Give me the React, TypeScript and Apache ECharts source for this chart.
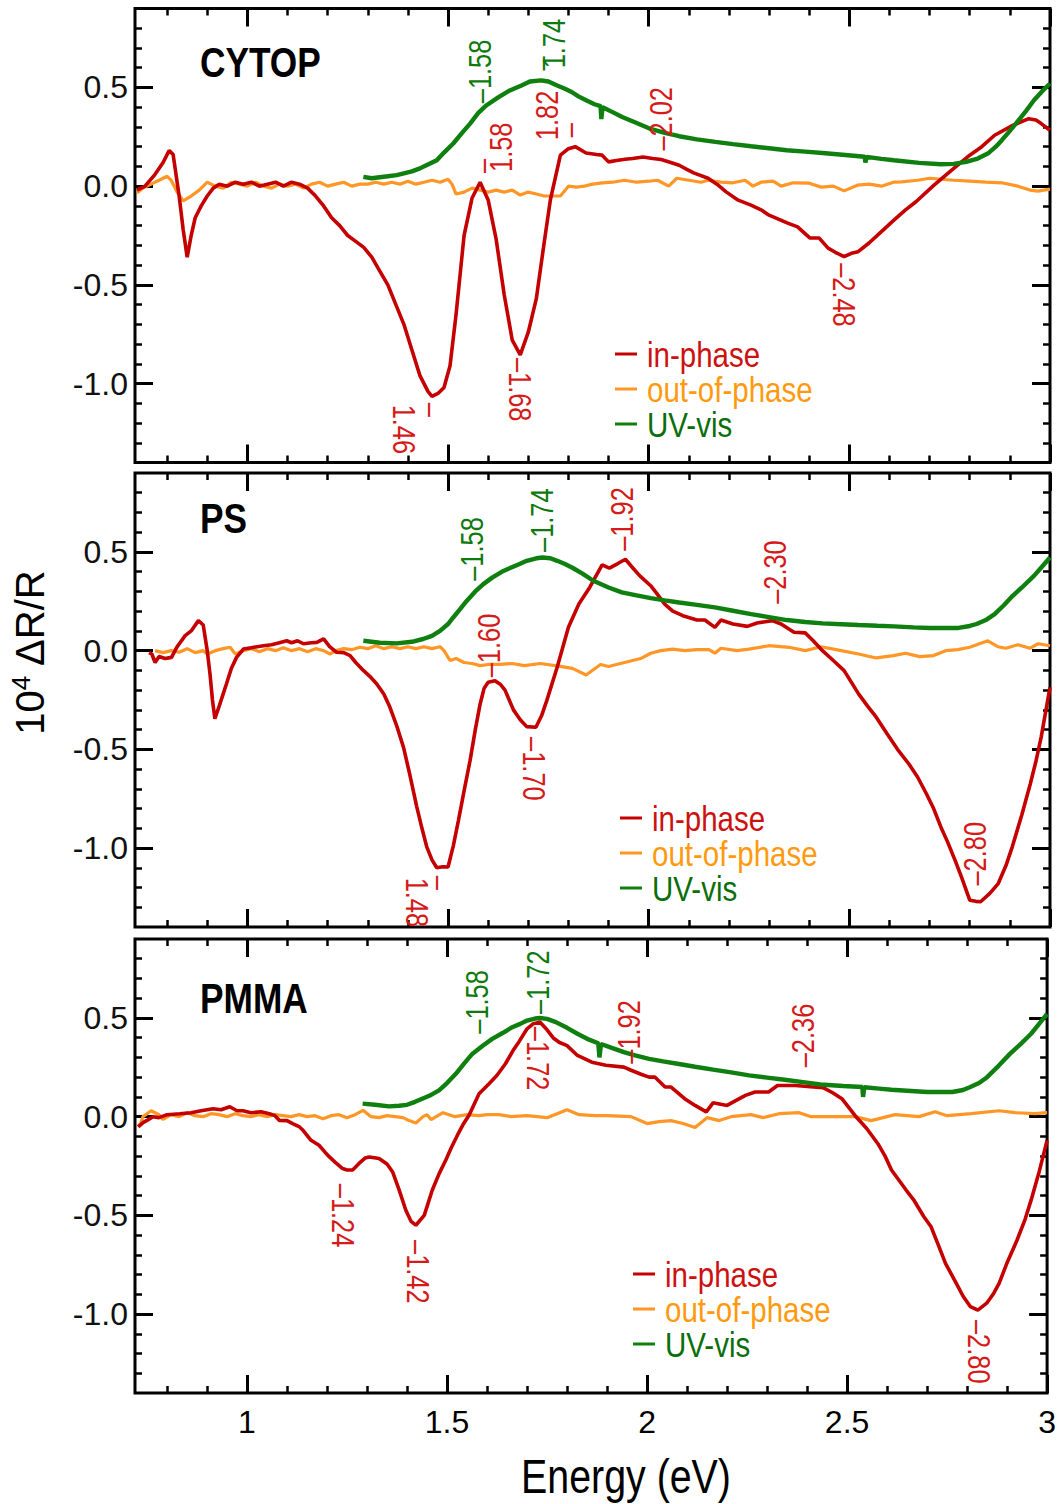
import React, { useEffect, useRef } from 'react';
import * as echarts from 'echarts';

// ---------- axis ranges & ticks ----------
const X_MIN = 0.72;
const X_MAX = 3.0;
const Y_MIN = -1.4;
const Y_MAX = 0.9;
const xMajor = [1, 1.5, 2, 2.5, 3];
const xMinor = [0.8, 0.9, 1.1, 1.2, 1.3, 1.4, 1.6, 1.7, 1.8, 1.9, 2.1, 2.2, 2.3, 2.4, 2.6, 2.7, 2.8, 2.9];
const yMajor = [-1, -0.5, 0, 0.5];
const yMinor = [-1.3, -1.2, -1.1, -0.9, -0.8, -0.7, -0.6, -0.4, -0.3, -0.2, -0.1, 0.1, 0.2, 0.3, 0.4, 0.6, 0.7, 0.8];

const panelNames = ['CYTOP', 'PS', 'PMMA'];
const seriesNames = ['in-phase', 'out-of-phase', 'UV-vis'];
const xTitle = 'Energy (eV)';

// ---------- CYTOP ----------
const cytopInPhase = [
  [0.725, -0.02], [0.745, 0.0], [0.77, 0.06], [0.79, 0.12], [0.805, 0.18], [0.815, 0.16], [0.83, -0.05], [0.84, -0.22],
  [0.85, -0.36], [0.86, -0.25], [0.87, -0.16], [0.885, -0.1], [0.9, -0.05], [0.915, -0.01], [0.93, 0.01], [0.95, 0.0],
  [0.97, 0.02], [0.99, 0.01], [1.01, 0.02], [1.03, 0.0], [1.05, 0.01], [1.07, 0.02], [1.09, 0.0], [1.11, 0.02],
  [1.13, 0.01], [1.15, -0.01], [1.17, -0.05], [1.19, -0.1], [1.21, -0.16], [1.23, -0.2], [1.25, -0.25], [1.27, -0.28],
  [1.29, -0.31], [1.31, -0.36], [1.33, -0.43], [1.35, -0.5], [1.37, -0.6], [1.39, -0.7], [1.41, -0.83], [1.43, -0.96],
  [1.45, -1.04], [1.46, -1.065], [1.475, -1.05], [1.49, -1.02], [1.505, -0.91], [1.52, -0.65], [1.54, -0.25], [1.56, -0.06],
  [1.58, 0.02], [1.6, -0.07], [1.62, -0.27], [1.64, -0.55], [1.66, -0.78], [1.68, -0.855], [1.7, -0.74], [1.72, -0.57],
  [1.74, -0.28], [1.755, -0.07], [1.78, 0.157], [1.8, 0.19], [1.817, 0.2], [1.844, 0.168], [1.87, 0.16], [1.884, 0.157],
  [1.9, 0.123], [1.92, 0.13], [1.941, 0.136], [1.96, 0.14], [1.986, 0.148], [2.01, 0.14], [2.031, 0.135], [2.055, 0.12],
  [2.076, 0.106], [2.095, 0.085], [2.112, 0.067], [2.148, 0.04], [2.17, 0.01], [2.193, -0.029], [2.223, -0.071], [2.255, -0.096],
  [2.28, -0.12], [2.3, -0.147], [2.345, -0.186], [2.371, -0.206], [2.402, -0.263], [2.425, -0.263], [2.447, -0.314], [2.465, -0.335],
  [2.487, -0.357], [2.505, -0.34], [2.522, -0.332], [2.549, -0.288], [2.58, -0.23], [2.611, -0.172], [2.64, -0.12], [2.666, -0.079],
  [2.711, 0.005], [2.755, 0.081], [2.8, 0.157], [2.83, 0.2], [2.862, 0.258], [2.907, 0.308], [2.947, 0.342], [2.965, 0.335],
  [2.978, 0.317], [3.0, 0.283],
];
const cytopOutPhase = [
  [0.725, -0.035], [0.74, -0.01], [0.76, 0.01], [0.78, 0.03], [0.8, 0.05], [0.81, 0.03], [0.825, -0.03], [0.84, -0.075],
  [0.86, -0.05], [0.88, -0.02], [0.9, 0.02], [0.92, 0.0], [0.94, -0.01], [0.96, 0.02], [0.98, 0.01], [1.0, 0.0],
  [1.02, 0.02], [1.04, 0.0], [1.06, -0.01], [1.08, 0.01], [1.1, 0.0], [1.12, 0.01], [1.14, -0.01], [1.16, 0.01],
  [1.18, 0.02], [1.2, 0.0], [1.22, 0.01], [1.24, 0.02], [1.26, 0.0], [1.28, 0.01], [1.3, 0.01], [1.32, 0.02],
  [1.34, 0.01], [1.36, 0.02], [1.38, 0.01], [1.4, 0.025], [1.42, 0.01], [1.44, 0.02], [1.46, 0.03], [1.48, 0.02],
  [1.5, 0.035], [1.51, 0.01], [1.52, -0.04], [1.54, -0.03], [1.56, -0.01], [1.58, -0.02], [1.6, -0.03], [1.62, -0.02],
  [1.64, -0.03], [1.66, -0.02], [1.68, -0.045], [1.7, -0.03], [1.72, -0.04], [1.74, -0.05], [1.76, -0.05], [1.78, -0.05],
  [1.8, 0.0], [1.82, -0.005], [1.84, 0.0], [1.86, 0.01], [1.884, 0.017], [1.91, 0.02], [1.94, 0.03], [1.97, 0.02],
  [2.0, 0.025], [2.022, 0.03], [2.05, 0.0], [2.07, 0.04], [2.1, 0.03], [2.13, 0.02], [2.148, 0.03], [2.18, 0.02],
  [2.21, 0.017], [2.24, 0.03], [2.26, 0.0], [2.28, 0.02], [2.31, 0.025], [2.33, 0.0], [2.36, 0.017], [2.4, 0.015],
  [2.43, -0.005], [2.46, 0.0], [2.487, -0.024], [2.52, 0.005], [2.55, 0.01], [2.58, 0.0], [2.61, 0.02], [2.63, 0.022],
  [2.67, 0.03], [2.7, 0.04], [2.73, 0.035], [2.76, 0.03], [2.8, 0.025], [2.84, 0.02], [2.88, 0.017], [2.92, 0.0],
  [2.95, -0.02], [2.97, -0.025], [3.0, -0.015],
];
const cytopUV = [
  [1.289, 0.047], [1.31, 0.04], [1.33, 0.045], [1.35, 0.05], [1.372, 0.056], [1.39, 0.065], [1.41, 0.075], [1.43, 0.09],
  [1.45, 0.11], [1.472, 0.131], [1.49, 0.17], [1.513, 0.216], [1.535, 0.27], [1.555, 0.317], [1.575, 0.37], [1.596, 0.41],
  [1.625, 0.45], [1.654, 0.485], [1.683, 0.51], [1.704, 0.53], [1.732, 0.536], [1.75, 0.53], [1.772, 0.51], [1.79, 0.495],
  [1.808, 0.477], [1.825, 0.455], [1.844, 0.435], [1.865, 0.415], [1.88, 0.405], [1.882, 0.34], [1.885, 0.4], [1.91, 0.375],
  [1.934, 0.35], [1.97, 0.32], [2.005, 0.29], [2.04, 0.27], [2.076, 0.253], [2.12, 0.237], [2.166, 0.224], [2.21, 0.213],
  [2.255, 0.202], [2.3, 0.192], [2.344, 0.182], [2.39, 0.175], [2.433, 0.168], [2.49, 0.158], [2.538, 0.149], [2.54, 0.12],
  [2.543, 0.148], [2.58, 0.138], [2.611, 0.131], [2.674, 0.118], [2.728, 0.111], [2.76, 0.113], [2.791, 0.123], [2.82, 0.14],
  [2.845, 0.165], [2.865, 0.2], [2.88, 0.233], [2.9, 0.28], [2.915, 0.317], [2.94, 0.38], [2.96, 0.435], [2.98, 0.48],
  [3.0, 0.52],
];

// ---------- PS ----------
const psInPhase = [
  [0.755, -0.01], [0.762, -0.017], [0.77, -0.06], [0.78, -0.03], [0.795, -0.04], [0.811, -0.034], [0.825, 0.02], [0.845, 0.076],
  [0.86, 0.1], [0.878, 0.152], [0.89, 0.13], [0.9, 0.0], [0.907, -0.12], [0.913, -0.25], [0.919, -0.345], [0.93, -0.28],
  [0.948, -0.168], [0.96, -0.09], [0.973, -0.034], [0.99, 0.008], [1.01, 0.015], [1.04, 0.025], [1.06, 0.03], [1.08, 0.04],
  [1.098, 0.05], [1.11, 0.04], [1.125, 0.05], [1.14, 0.035], [1.16, 0.04], [1.173, 0.042], [1.19, 0.06], [1.205, 0.02],
  [1.222, -0.008], [1.24, -0.01], [1.256, -0.025], [1.27, -0.06], [1.289, -0.1], [1.305, -0.13], [1.322, -0.168], [1.34, -0.22],
  [1.355, -0.286], [1.372, -0.38], [1.389, -0.489], [1.405, -0.63], [1.422, -0.79], [1.435, -0.9], [1.447, -0.994], [1.46, -1.06],
  [1.472, -1.1], [1.487, -1.095], [1.5, -1.096], [1.513, -0.99], [1.526, -0.86], [1.54, -0.71], [1.555, -0.556], [1.568, -0.4],
  [1.58, -0.27], [1.59, -0.19], [1.6, -0.16], [1.617, -0.152], [1.63, -0.17], [1.642, -0.2], [1.663, -0.3], [1.68, -0.35],
  [1.696, -0.385], [1.719, -0.388], [1.733, -0.33], [1.746, -0.253], [1.772, -0.084], [1.8, 0.118], [1.826, 0.236], [1.853, 0.32],
  [1.884, 0.435], [1.902, 0.418], [1.922, 0.44], [1.942, 0.463], [1.96, 0.42], [1.978, 0.379], [2.005, 0.329], [2.02, 0.29],
  [2.04, 0.236], [2.06, 0.2], [2.085, 0.177], [2.12, 0.155], [2.14, 0.155], [2.165, 0.118], [2.18, 0.155], [2.21, 0.135],
  [2.246, 0.123], [2.27, 0.14], [2.308, 0.152], [2.33, 0.135], [2.362, 0.093], [2.39, 0.09], [2.41, 0.05], [2.433, 0.0],
  [2.46, -0.05], [2.487, -0.101], [2.523, -0.219], [2.545, -0.28], [2.567, -0.337], [2.594, -0.421], [2.62, -0.5], [2.648, -0.573],
  [2.67, -0.64], [2.692, -0.725], [2.71, -0.8], [2.728, -0.893], [2.745, -0.97], [2.763, -1.06], [2.78, -1.15], [2.8, -1.264],
  [2.815, -1.27], [2.827, -1.272], [2.85, -1.23], [2.871, -1.18], [2.89, -1.09], [2.906, -0.994], [2.93, -0.83], [2.951, -0.674],
  [2.965, -0.56], [2.978, -0.438], [3.0, -0.186],
];
const psOutPhase = [
  [0.77, 0.0], [0.79, -0.01], [0.81, 0.0], [0.83, -0.008], [0.85, 0.01], [0.87, -0.01], [0.89, 0.0], [0.9, -0.017],
  [0.92, 0.0], [0.94, 0.01], [0.957, 0.017], [0.97, -0.017], [0.99, 0.0], [1.01, 0.01], [1.03, -0.005], [1.05, 0.01],
  [1.07, 0.0], [1.09, 0.015], [1.11, 0.0], [1.13, 0.01], [1.15, -0.005], [1.17, 0.01], [1.19, 0.0], [1.206, -0.017],
  [1.22, 0.0], [1.24, 0.01], [1.26, 0.005], [1.28, 0.017], [1.3, 0.01], [1.32, 0.025], [1.34, 0.01], [1.36, 0.02],
  [1.38, 0.01], [1.4, 0.02], [1.42, 0.01], [1.44, 0.02], [1.46, 0.01], [1.48, 0.02], [1.49, 0.0], [1.505, -0.05],
  [1.52, -0.04], [1.54, -0.06], [1.56, -0.065], [1.58, -0.076], [1.6, -0.07], [1.63, -0.07], [1.66, -0.065], [1.69, -0.076],
  [1.73, -0.065], [1.78, -0.08], [1.81, -0.09], [1.844, -0.123], [1.88, -0.07], [1.9, -0.08], [1.94, -0.06], [1.98, -0.04],
  [2.005, -0.013], [2.03, 0.0], [2.06, 0.008], [2.09, 0.0], [2.12, 0.005], [2.15, 0.005], [2.165, -0.013], [2.18, 0.012],
  [2.22, 0.0], [2.25, 0.008], [2.3, 0.025], [2.35, 0.017], [2.39, 0.0], [2.43, 0.02], [2.48, 0.0], [2.523, -0.017],
  [2.567, -0.037], [2.61, -0.025], [2.64, -0.013], [2.675, -0.03], [2.71, -0.025], [2.74, 0.0], [2.77, 0.005], [2.8, 0.017],
  [2.845, 0.05], [2.87, 0.02], [2.89, 0.012], [2.92, 0.03], [2.95, 0.012], [2.97, 0.035], [3.0, 0.025],
];
const psUV = [
  [1.289, 0.05], [1.33, 0.04], [1.372, 0.037], [1.41, 0.045], [1.438, 0.059], [1.46, 0.075], [1.48, 0.1], [1.5, 0.135],
  [1.513, 0.168], [1.53, 0.21], [1.547, 0.253], [1.568, 0.3], [1.588, 0.337], [1.61, 0.37], [1.638, 0.404], [1.674, 0.435],
  [1.696, 0.455], [1.72, 0.468], [1.735, 0.472], [1.755, 0.468], [1.772, 0.455], [1.79, 0.44], [1.81, 0.42], [1.835, 0.39],
  [1.862, 0.354], [1.9, 0.32], [1.933, 0.295], [1.97, 0.28], [2.005, 0.266], [2.04, 0.255], [2.076, 0.244], [2.12, 0.232],
  [2.165, 0.219], [2.21, 0.202], [2.255, 0.185], [2.3, 0.17], [2.344, 0.155], [2.39, 0.145], [2.433, 0.138], [2.48, 0.134],
  [2.523, 0.13], [2.57, 0.126], [2.611, 0.123], [2.66, 0.118], [2.7, 0.115], [2.772, 0.115], [2.8, 0.125], [2.817, 0.135],
  [2.84, 0.155], [2.862, 0.185], [2.885, 0.23], [2.907, 0.278], [2.93, 0.32], [2.96, 0.379], [2.98, 0.425], [3.0, 0.472],
];

// ---------- PMMA ----------
const pmmaInPhase = [
  [0.728, -0.052], [0.74, -0.03], [0.75, -0.019], [0.765, 0.0], [0.78, -0.005], [0.8, 0.01], [0.832, 0.015], [0.86, 0.02],
  [0.885, 0.03], [0.915, 0.04], [0.935, 0.035], [0.957, 0.05], [0.975, 0.03], [0.99, 0.03], [1.01, 0.02], [1.035, 0.025],
  [1.056, 0.015], [1.07, 0.005], [1.081, -0.019], [1.1, -0.02], [1.114, -0.035], [1.13, -0.05], [1.14, -0.069], [1.16, -0.12],
  [1.18, -0.145], [1.195, -0.18], [1.206, -0.204], [1.22, -0.23], [1.239, -0.263], [1.25, -0.27], [1.264, -0.27], [1.28, -0.237],
  [1.295, -0.21], [1.306, -0.204], [1.33, -0.212], [1.35, -0.24], [1.364, -0.28], [1.38, -0.37], [1.397, -0.474], [1.41, -0.53],
  [1.422, -0.55], [1.443, -0.5], [1.463, -0.373], [1.48, -0.29], [1.497, -0.22], [1.51, -0.16], [1.526, -0.094], [1.54, -0.04],
  [1.555, 0.007], [1.58, 0.116], [1.605, 0.167], [1.625, 0.21], [1.646, 0.268], [1.665, 0.335], [1.68, 0.38], [1.7, 0.445],
  [1.715, 0.47], [1.732, 0.479], [1.75, 0.44], [1.765, 0.4], [1.78, 0.377], [1.8, 0.36], [1.826, 0.31], [1.862, 0.276],
  [1.897, 0.26], [1.942, 0.251], [1.96, 0.235], [1.985, 0.215], [2.005, 0.2], [2.02, 0.2], [2.045, 0.15], [2.06, 0.15],
  [2.094, 0.091], [2.12, 0.057], [2.148, 0.024], [2.165, 0.07], [2.2, 0.057], [2.225, 0.085], [2.246, 0.108], [2.27, 0.125],
  [2.304, 0.125], [2.326, 0.158], [2.371, 0.158], [2.416, 0.15], [2.44, 0.147], [2.465, 0.12], [2.487, 0.091], [2.523, -0.002],
  [2.549, -0.06], [2.577, -0.137], [2.595, -0.2], [2.611, -0.27], [2.648, -0.373], [2.666, -0.42], [2.692, -0.507], [2.71, -0.558],
  [2.728, -0.65], [2.746, -0.743], [2.773, -0.845], [2.79, -0.91], [2.808, -0.962], [2.827, -0.98], [2.849, -0.945], [2.865, -0.9],
  [2.88, -0.845], [2.9, -0.74], [2.925, -0.625], [2.945, -0.52], [2.96, -0.423], [2.98, -0.28], [3.0, -0.12],
];
const pmmaOutPhase = [
  [0.728, -0.05], [0.735, -0.03], [0.74, 0.0], [0.75, 0.015], [0.76, 0.03], [0.77, 0.02], [0.78, 0.01], [0.79, -0.014],
  [0.81, 0.01], [0.83, 0.0], [0.85, 0.02], [0.87, 0.005], [0.89, 0.0], [0.91, 0.015], [0.93, 0.01], [0.95, 0.0],
  [0.97, 0.015], [0.99, 0.005], [1.01, 0.0], [1.03, 0.01], [1.05, 0.0], [1.07, 0.01], [1.09, 0.005], [1.11, 0.0],
  [1.13, 0.01], [1.15, 0.0], [1.17, 0.005], [1.19, -0.01], [1.21, 0.005], [1.23, 0.01], [1.25, -0.005], [1.27, 0.01],
  [1.29, 0.032], [1.31, 0.0], [1.33, -0.005], [1.35, 0.005], [1.37, 0.0], [1.39, -0.005], [1.405, -0.02], [1.422, -0.032],
  [1.44, 0.0], [1.45, 0.01], [1.46, -0.015], [1.49, 0.02], [1.52, 0.0], [1.55, 0.01], [1.58, 0.005], [1.6, 0.01],
  [1.63, 0.01], [1.66, 0.0], [1.7, 0.005], [1.75, -0.005], [1.8, 0.035], [1.83, 0.01], [1.87, 0.005], [1.9, 0.005],
  [1.96, 0.0], [2.0, -0.035], [2.03, -0.025], [2.06, -0.02], [2.09, -0.035], [2.12, -0.055], [2.15, -0.005], [2.18, -0.02],
  [2.21, 0.0], [2.26, 0.01], [2.29, -0.005], [2.33, 0.015], [2.38, 0.02], [2.41, 0.0], [2.47, 0.0], [2.52, 0.0],
  [2.56, -0.02], [2.62, 0.01], [2.68, 0.0], [2.72, 0.025], [2.75, 0.005], [2.81, 0.015], [2.88, 0.03], [2.92, 0.02],
  [2.97, 0.015], [3.0, 0.02],
];
const pmmaUV = [
  [1.289, 0.066], [1.32, 0.06], [1.355, 0.052], [1.38, 0.055], [1.4, 0.06], [1.42, 0.075], [1.438, 0.091], [1.46, 0.11],
  [1.48, 0.133], [1.5, 0.17], [1.522, 0.217], [1.543, 0.27], [1.563, 0.318], [1.59, 0.36], [1.613, 0.394], [1.64, 0.425],
  [1.663, 0.453], [1.683, 0.47], [1.7, 0.487], [1.72, 0.497], [1.732, 0.5], [1.75, 0.495], [1.772, 0.479], [1.8, 0.45],
  [1.826, 0.42], [1.855, 0.39], [1.878, 0.372], [1.881, 0.3], [1.885, 0.368], [1.91, 0.35], [1.942, 0.327], [1.97, 0.31],
  [2.005, 0.293], [2.04, 0.28], [2.076, 0.268], [2.12, 0.253], [2.165, 0.238], [2.21, 0.224], [2.255, 0.209], [2.3, 0.198],
  [2.344, 0.187], [2.39, 0.175], [2.433, 0.163], [2.49, 0.155], [2.538, 0.15], [2.54, 0.1], [2.543, 0.149], [2.58, 0.142],
  [2.611, 0.136], [2.66, 0.13], [2.7, 0.125], [2.763, 0.125], [2.79, 0.135], [2.808, 0.15], [2.83, 0.17], [2.85, 0.2],
  [2.88, 0.26], [2.907, 0.318], [2.935, 0.37], [2.96, 0.42], [2.98, 0.47], [3.0, 0.52],
];

// ---------- peak annotations: [x, y, text, rotation(deg), colour key, pixel shift] ----------
const cytopNotes = [
  [1.58, 0.42, '–1.58', 90, 'g', 0],
  [1.733, 0.586, '–', 90, 'g', 0],
  [1.733, 0.597, '1.74', 90, 'g', 13],
  [1.585, 0.066, '–', 90, 'r', 0],
  [1.585, 0.072, '1.58', 90, 'r', 19],
  [1.801, 0.248, '–', 90, 'r', 0],
  [1.801, 0.233, '1.82', 90, 'r', -22],
  [1.679, -0.87, '–1.68', -90, 'r', 0],
  [1.46, -1.097, '–', -90, 'r', 0],
  [1.46, -1.107, '1.46', -90, 'r', -28],
  [2.03, 0.18, '–2.02', 90, 'r', 0],
  [2.487, -0.39, '–2.48', -90, 'r', 0],
];
const psNotes = [
  [1.559, 0.354, '–1.58', 90, 'g', 0],
  [1.735, 0.5, '–1.74', 90, 'g', 0],
  [1.603, -0.135, '–1.60', 90, 'r', 0],
  [1.714, -0.438, '–1.70', -90, 'r', 0],
  [1.933, 0.506, '–1.92', 90, 'r', 0],
  [2.315, 0.237, '–2.30', 90, 'r', 0],
  [2.813, -1.19, '–2.80', 90, 'r', 0],
  [1.48, -1.14, '–', -90, 'r', 0],
  [1.48, -1.15, '1.48', -90, 'r', -23],
];
const pmmaNotes = [
  [1.575, 0.42, '–1.58', 90, 'g', 0],
  [1.728, 0.52, '–1.72', 90, 'g', 0],
  [1.728, 0.455, '–1.72', -90, 'r', 0],
  [1.955, 0.268, '–1.92', 90, 'r', 0],
  [2.39, 0.25, '–2.36', 90, 'r', 0],
  [2.83, -1.03, '–2.80', -90, 'r', 0],
  [1.239, -0.34, '–1.24', -90, 'r', 0],
  [1.428, -0.625, '–1.42', -90, 'r', 0],
];

const panels = [
  { inP: cytopInPhase, outP: cytopOutPhase, uv: cytopUV, notes: cytopNotes },
  { inP: psInPhase, outP: psOutPhase, uv: psUV, notes: psNotes },
  { inP: pmmaInPhase, outP: pmmaOutPhase, uv: pmmaUV, notes: pmmaNotes },
];

// ---------- layout & style ----------
const W = 1059;
const H = 1504;
const GRID_LEFT = 135;
const GRID_W = 915;
const GRID_H = 454;
const GRID_TOPS = [8.5, 473, 939];
const TITLE_POS = [[200, 62], [200, 518], [200, 998]];
const LEGEND_POS = [[615, 354], [620, 818], [633, 1274]];
const LEGEND_STEP = 35;
const NARROW_SCALE = 0.82;

const SANS = '"Liberation Sans", Arial, sans-serif';
const RED = '#C40000';
const ORANGE = '#FF9626';
const GREEN = '#0F7F0F';
const RED_T = '#D51A1A';
const GREEN_T = '#0E7A0E';
const LEGEND_COLORS = ['#CC1111', '#FF9A10', '#0A6E0A'];
const LINE_COLORS = [RED, ORANGE, GREEN];

function makeXAxes(gi: number) {
  const base = {
    type: 'value', gridIndex: gi, min: X_MIN, max: X_MAX,
    splitLine: { show: false }, axisLine: { show: false, onZero: false },
  };
  const major = { show: true, inside: true, length: 18, customValues: xMajor, lineStyle: { color: '#000', width: 3 } };
  const minor = { show: true, inside: true, length: 7, customValues: xMinor, lineStyle: { color: '#000', width: 2.5 } };
  const label = gi === 2
    ? { show: true, customValues: xMajor, formatter: (v: number) => String(v), margin: 13, fontSize: 32, fontFamily: SANS, color: '#000' }
    : { show: false };
  return [
    { ...base, position: 'bottom', axisTick: major, axisLabel: label },
    { ...base, position: 'bottom', axisTick: minor, axisLabel: { show: false } },
    { ...base, position: 'top', axisTick: major, axisLabel: { show: false } },
    { ...base, position: 'top', axisTick: minor, axisLabel: { show: false } },
  ];
}

function makeYAxes(gi: number) {
  const base = {
    type: 'value', gridIndex: gi, min: Y_MIN, max: Y_MAX,
    splitLine: { show: false }, axisLine: { show: false, onZero: false },
  };
  const major = { show: true, inside: true, length: 18, customValues: yMajor, lineStyle: { color: '#000', width: 3 } };
  const minor = { show: true, inside: true, length: 7, customValues: yMinor, lineStyle: { color: '#000', width: 2.5 } };
  return [
    {
      ...base, position: 'left', axisTick: major,
      axisLabel: { show: true, customValues: yMajor, formatter: (v: number) => v.toFixed(1), margin: 7, fontSize: 32, fontFamily: SANS, color: '#111' },
    },
    { ...base, position: 'left', axisTick: minor, axisLabel: { show: false } },
    { ...base, position: 'right', axisTick: major, axisLabel: { show: false } },
    { ...base, position: 'right', axisTick: minor, axisLabel: { show: false } },
  ];
}

function buildOption() {
  const xAxis: any[] = [];
  const yAxis: any[] = [];
  const series: any[] = [];
  panels.forEach((p, gi) => {
    xAxis.push(...makeXAxes(gi));
    yAxis.push(...makeYAxes(gi));
    const common = { type: 'line', xAxisIndex: gi * 4, yAxisIndex: gi * 4, showSymbol: false, symbol: 'none', clip: true };
    series.push({ ...common, name: seriesNames[1], data: p.outP, color: ORANGE, lineStyle: { color: ORANGE, width: 3.2 }, z: 2 });
    series.push({ ...common, name: seriesNames[0], data: p.inP, color: RED, lineStyle: { color: RED, width: 3.6 }, z: 3 });
    series.push({ ...common, name: seriesNames[2], data: p.uv, color: GREEN, lineStyle: { color: GREEN, width: 4.4 }, z: 4 });
  });
  return {
    animation: false,
    backgroundColor: '#fff',
    grid: GRID_TOPS.map((t) => ({
      left: GRID_LEFT, top: t, width: GRID_W, height: GRID_H, show: true,
      borderColor: '#000', borderWidth: 3, backgroundColor: 'transparent',
    })),
    xAxis, yAxis, series,
  };
}

function staticGraphics() {
  const g: any[] = [];
  panelNames.forEach((name, i) => {
    g.push({
      type: 'text', x: TITLE_POS[i][0], y: TITLE_POS[i][1], scaleX: NARROW_SCALE, z: 20,
      style: { text: name, fill: '#000', fontSize: 43, fontWeight: 'bold', fontFamily: SANS, align: 'left', verticalAlign: 'middle' },
    });
  });
  // legends
  LEGEND_POS.forEach(([lx, ly]) => {
    seriesNames.forEach((n, i) => {
      const cy = ly + i * LEGEND_STEP;
      g.push({
        type: 'line', z: 20,
        shape: { x1: lx, y1: cy, x2: lx + 22, y2: cy },
        style: { stroke: LINE_COLORS[i], lineWidth: 3 },
      });
      g.push({
        type: 'text', x: lx + 32, y: cy, scaleX: NARROW_SCALE, z: 20,
        style: { text: n, fill: LEGEND_COLORS[i], fontSize: 36, lineHeight: 33, fontFamily: SANS, align: 'left', verticalAlign: 'middle' },
      });
    });
  });
  g.push({
    type: 'text', x: 30, y: 652, rotation: Math.PI / 2, z: 20,
    style: {
      text: '{t|10}{s|4}{r| ΔR/R}', align: 'center', verticalAlign: 'middle', fill: '#000',
      rich: {
        t: { fontSize: 40, fontFamily: SANS, fill: '#000', lineHeight: 44 },
        s: { fontSize: 26, fontFamily: SANS, fill: '#000', verticalAlign: 'top', lineHeight: 44 },
        r: { fontSize: 40, fontFamily: SANS, fill: '#000', lineHeight: 44 },
      },
    },
  });
  g.push({
    type: 'text', x: 626, y: 1476, scaleX: NARROW_SCALE, z: 20,
    style: { text: xTitle, fill: '#000', fontSize: 48, fontFamily: SANS, align: 'center', verticalAlign: 'middle' },
  });
  return g;
}

export default function App() {
  const ref = useRef<HTMLDivElement>(null);
  useEffect(() => {
    if (!ref.current) return;
    const chart = echarts.init(ref.current, null, { renderer: 'svg' });
    chart.setOption(buildOption() as any);
    const g = staticGraphics();
    panels.forEach((p, gi) => {
      p.notes.forEach((n: any[]) => {
        const [x, y, text, rot, c, dx] = n;
        const pt = chart.convertToPixel({ xAxisIndex: gi * 4, yAxisIndex: gi * 4 } as any, [x, y]) as unknown as number[];
        g.push({
          type: 'text', x: pt[0] + (dx || 0), y: pt[1], rotation: (rot * Math.PI) / 180, scaleX: NARROW_SCALE, z: 20,
          style: {
            text, fill: c === 'g' ? GREEN_T : RED_T, fontSize: 31, lineHeight: 28, fontFamily: SANS,
            align: 'left', verticalAlign: 'middle',
          },
        });
      });
    });
    chart.setOption({ graphic: g } as any);
    return () => chart.dispose();
  }, []);
  return <div ref={ref} style={{ position: 'fixed', left: 0, top: 0, width: W, height: H, background: '#fff' }} />;
}
